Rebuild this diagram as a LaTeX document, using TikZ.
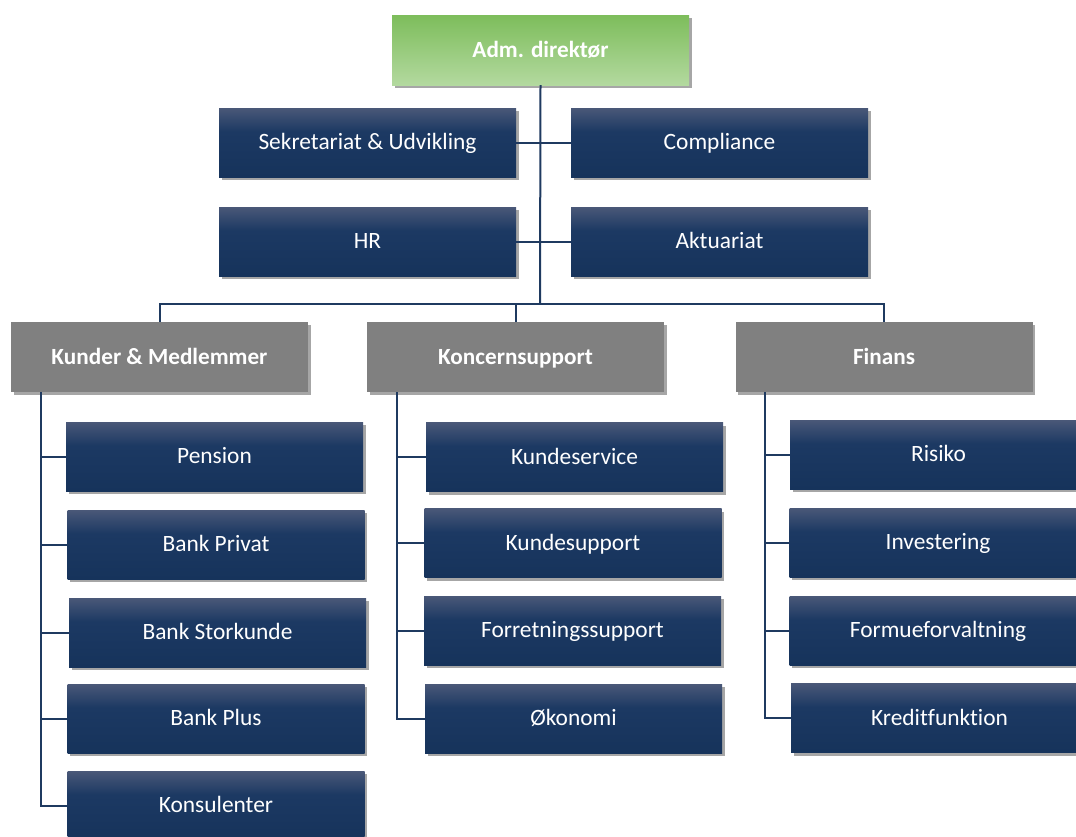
\documentclass[tikz,border=0pt]{standalone}
\usepackage{fontspec}
\setmainfont{Carlito}[Ligatures=NoCommon]
\usetikzlibrary{shadows}
\definecolor{bxtop}{HTML}{4A5878}
\definecolor{bxmid}{HTML}{1C3963}
\definecolor{bxbot}{HTML}{16335B}
\definecolor{grtop}{HTML}{7DBD5B}
\definecolor{grbot}{HTML}{B3D99F}
\definecolor{boxgray}{HTML}{808080}
\definecolor{linec}{HTML}{1F3A60}
\pgfdeclareverticalshading{navyshade}{100bp}{color(0bp)=(bxbot); color(25bp)=(bxbot); color(58bp)=(bxmid); color(75bp)=(bxtop); color(100bp)=(bxtop)}
\tikzset{
  basebox/.style={rectangle, minimum width=297pt, minimum height=69pt, inner sep=0pt,
    text height=17.5pt, text depth=3.5pt,
    text=white, font=\fontsize{23.4}{28}\selectfont,
    drop shadow={shadow xshift=2.5pt, shadow yshift=-3pt, opacity=0.35, fill=black}},
  subbox/.style={basebox, shading=navyshade},
  headbox/.style={basebox, fill=boxgray, minimum height=70pt, font=\fontsize{23.2}{28}\selectfont\bfseries},
  topbox/.style={basebox, top color=grtop, bottom color=grbot, minimum height=70pt, font=\fontsize{23.2}{28}\selectfont\bfseries},
  conn/.style={draw=linec, line width=2pt}
}
\begin{document}
\begin{tikzpicture}[x=1pt, y=-1pt]
\clip (0,0) rectangle (1076,836);
\fill[white] (0,0) rectangle (1076,836);
% top
\node[topbox] (top) at (540.5,50) {Adm. direktør};
\node[subbox] (sek) at (367.5,142.5) {Sekretariat \& Udvikling};
\node[subbox] (comp) at (719.5,142.5) {Compliance};
\node[subbox] (hr) at (367.5,241.5) {HR};
\node[subbox] (akt) at (719.5,241.5) {Aktuariat};
% heads
\node[headbox] (kunder) at (159.5,357) {Kunder \& Medlemmer};
\node[headbox] (kon) at (515.5,357) {Koncernsupport};
\node[headbox] (fin) at (884,357) {Finans};
% left column
\node[subbox] (pension) at (214.5,456.5) {Pension};
\node[subbox] (bprivat) at (216,544.5) {Bank Privat};
\node[subbox] (bstor) at (217.5,632.5) {Bank Storkunde};
\node[subbox] (bplus) at (216,718.5) {Bank Plus};
\node[subbox] (kons) at (216,805.5) {Konsulenter};
% middle column
\node[subbox] (kservice) at (574.5,457) {Kundeservice};
\node[subbox] (ksupport) at (573,543) {Kundesupport};
\node[subbox] (forret) at (572.5,630.5) {Forretningssupport};
\node[subbox] (oko) at (573.5,718.5) {Økonomi};
% right column
\node[subbox] (risiko) at (938.5,454.5) {Risiko};
\node[subbox] (invest) at (938,542.5) {Investering};
\node[subbox] (formue) at (938,630.5) {Formueforvaltning};
\node[subbox] (kredit) at (939.5,718) {Kreditfunktion};
% connectors
\coordinate (hub) at (540,303.5);
\coordinate (kl) at (41,392);
\coordinate (ml) at (397,392);
\coordinate (rl) at (765,392);
\draw[conn] (top.south) -- (hub);
\draw[conn] (sek.east) -- (comp.west);
\draw[conn] (hr.east) -- (akt.west);
\draw[conn] (kunder.north) |- (hub) -| (fin.north);
\draw[conn] (kon.north) -- (kon.north |- hub);
\draw[conn] (kl) |- (kons.west);
\foreach \n in {pension,bprivat,bstor,bplus} \draw[conn] (\n.west) -- (\n.west -| kl);
\draw[conn] (ml) |- (oko.west);
\foreach \n in {kservice,ksupport,forret} \draw[conn] (\n.west) -- (\n.west -| ml);
\draw[conn] (rl) |- (kredit.west);
\foreach \n in {risiko,invest,formue} \draw[conn] (\n.west) -- (\n.west -| rl);
\end{tikzpicture}
\end{document}
